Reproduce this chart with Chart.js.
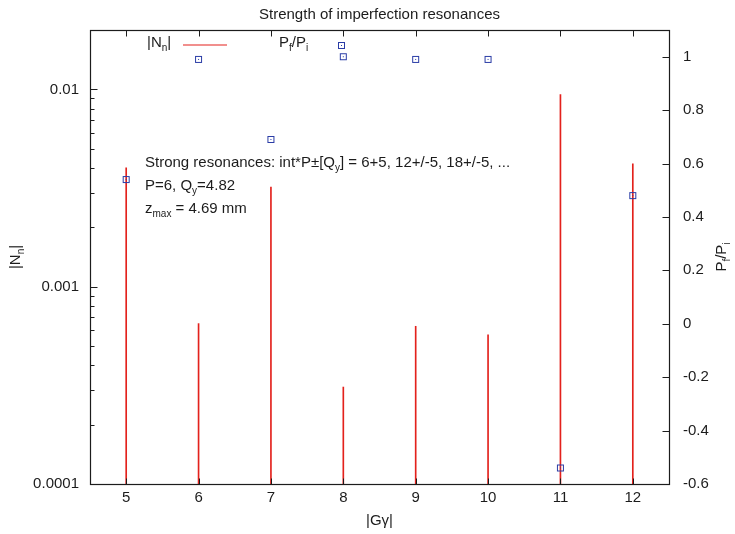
<!DOCTYPE html>
<html>
<head>
<meta charset="utf-8">
<script src="https://cdn.jsdelivr.net/npm/chart.js@4/dist/chart.umd.min.js"></script>
<style>
  html, body { margin: 0; padding: 0; background: #fff; }
</style>
</head>
<body>
<canvas id="myChart" width="735" height="534"></canvas>
<script>
// harmonic number |G gamma| and the two series
const harmonics = [5, 6, 7, 8, 9, 10, 11, 12];
const strength = [0.0040, 0.00065, 0.0032, 0.00031, 0.00063, 0.00057, 0.0094, 0.0042];
const polRatio = [0.54, 0.99, 0.69, 1.0, 0.99, 0.99, -0.54, 0.48];

// tick labels
const xTicks = [5, 6, 7, 8, 9, 10, 11, 12];
const leftTicks = [0.0001, 0.001, 0.01];
const leftMinor = [2, 3, 4, 5, 6, 7, 8, 9];
const rightTicks = [-0.6, -0.4, -0.2, 0, 0.2, 0.4, 0.6, 0.8, 1];

const red = '#e3211c';
const blue = '#2a3ca6';
const ink = '#1c1c1c';
const fontFamily = '"Liberation Sans", Arial, Helvetica, sans-serif';

// gnuplot-like open square with a centre dot
const mark = document.createElement('canvas');
mark.width = 9;
mark.height = 9;
const m = mark.getContext('2d');
m.strokeStyle = blue;
m.lineWidth = 1;
m.strokeRect(1.5, 1.5, 6, 6);
m.fillStyle = blue;
m.fillRect(4, 4, 1, 1);

// draw text made of pieces, some of them subscripts
function richWidth(ctx, parts) {
  let w = 0;
  parts.forEach(p => {
    ctx.font = (p[1] ? '10px ' : '15px ') + fontFamily;
    w += ctx.measureText(p[0]).width;
  });
  return w;
}
function drawRich(ctx, parts, x, y) {
  ctx.textBaseline = 'middle';
  ctx.textAlign = 'left';
  parts.forEach(p => {
    ctx.font = (p[1] ? '10px ' : '15px ') + fontFamily;
    ctx.fillText(p[0], x, p[1] ? y + 5 : y);
    x += ctx.measureText(p[0]).width;
  });
}

const gnuplotLook = {
  id: 'gnuplotLook',
  afterDraw(chart) {
    const {ctx, chartArea: a, scales} = chart;
    const x = scales.x, y = scales.y, y2 = scales.y2;
    ctx.save();
    ctx.strokeStyle = ink;
    ctx.lineWidth = 1.2;
    const L = Math.round(a.left) + 0.5, R = Math.round(a.right) + 0.5;
    const T = Math.round(a.top) + 0.5, B = Math.round(a.bottom) + 0.5;
    ctx.strokeRect(L, T, R - L, B - T);

    ctx.lineWidth = 1;
    ctx.beginPath();
    xTicks.forEach(v => {
      const px = Math.round(x.getPixelForValue(v)) + 0.5;
      ctx.moveTo(px, B); ctx.lineTo(px, B - 6);
      ctx.moveTo(px, T); ctx.lineTo(px, T + 6);
    });
    leftTicks.forEach(v => {
      const py = Math.round(y.getPixelForValue(v)) + 0.5;
      ctx.moveTo(L, py); ctx.lineTo(L + 7, py);
      leftMinor.forEach(k => {
        const val = v * k;
        if (val < y.max) {
          const pm = Math.round(y.getPixelForValue(val)) + 0.5;
          ctx.moveTo(L, pm); ctx.lineTo(L + 4, pm);
        }
      });
    });
    rightTicks.forEach(v => {
      const py = Math.round(y2.getPixelForValue(v)) + 0.5;
      ctx.moveTo(R, py); ctx.lineTo(R - 7, py);
    });
    ctx.stroke();

    ctx.fillStyle = ink;
    // title
    ctx.font = '15px ' + fontFamily;
    ctx.textAlign = 'center';
    ctx.textBaseline = 'middle';
    ctx.fillText('Strength of imperfection resonances', (a.left + a.right) / 2, 15);
    ctx.fillText('|G\u03b3|', (a.left + a.right) / 2, 521);

    // rotated axis titles
    const cy = (a.top + a.bottom) / 2;
    [[[['|N'], ['n', 1], ['|']], 16], [[['P'], ['f', 1], ['/P'], ['i', 1]], 722]].forEach(([parts, tx]) => {
      ctx.save();
      ctx.translate(tx, cy);
      ctx.rotate(-Math.PI / 2);
      drawRich(ctx, parts, -richWidth(ctx, parts) / 2, 0);
      ctx.restore();
    });

    // key
    drawRich(ctx, [['|N'], ['n', 1], ['|']], 147, 43);
    ctx.strokeStyle = red;
    ctx.lineWidth = 1.2;
    ctx.beginPath();
    ctx.moveTo(183, 45); ctx.lineTo(227, 45);
    ctx.stroke();
    ctx.fillStyle = ink;
    drawRich(ctx, [['P'], ['f', 1], ['/P'], ['i', 1]], 279, 43);
    ctx.drawImage(mark, 337, 41);

    // labels inside the plot
    drawRich(ctx, [['Strong resonances: int*P\u00b1[Q'], ['y', 1], ['] = 6+5, 12+/-5, 18+/-5, ...']], 145, 163);
    drawRich(ctx, [['P=6, Q'], ['y', 1], ['=4.82']], 145, 186);
    drawRich(ctx, [['z'], ['max', 1], [' = 4.69 mm']], 145, 209);
    ctx.restore();
  }
};

const data = {
  datasets: [{
    type: 'scatter',
    label: 'Pf/Pi',
    data: harmonics.map((h, i) => ({x: h, y: polRatio[i]})),
    yAxisID: 'y2',
    pointStyle: mark,
    pointRadius: 4,
    order: 0
  }, {
    type: 'bar',
    label: '|Nn|',
    data: harmonics.map((h, i) => ({x: h, y: strength[i]})),
    yAxisID: 'y',
    backgroundColor: red,
    borderWidth: 0,
    barThickness: 1,
    order: 1
  }]
};

const tickFont = {family: fontFamily, size: 15};

const config = {
  data: data,
  options: {
    responsive: false,
    animation: false,
    layout: {padding: {top: 30, left: 0, right: 0, bottom: 0}},
    plugins: {
      legend: {display: false},
      tooltip: {enabled: false}
    },
    scales: {
      x: {
        type: 'linear',
        min: 4.5,
        max: 12.5,
        offset: false,
        grid: {display: false, drawTicks: false},
        border: {display: false},
        afterBuildTicks: s => { s.ticks = xTicks.map(v => ({value: v})); },
        afterFit: s => { s.height = 50; },
        ticks: {font: tickFont, color: ink, padding: 5, maxRotation: 0, callback: v => String(v)}
      },
      y: {
        type: 'logarithmic',
        position: 'left',
        min: 0.0001,
        max: 0.02,
        grid: {display: false, drawTicks: false},
        border: {display: false},
        afterBuildTicks: s => { s.ticks = leftTicks.map(v => ({value: v})); },
        afterFit: s => { s.width = 90; },
        ticks: {font: tickFont, color: ink, padding: 11, callback: v => String(v)}
      },
      y2: {
        type: 'linear',
        position: 'right',
        min: -0.6,
        max: 1.1,
        grid: {display: false, drawTicks: false},
        border: {display: false},
        afterBuildTicks: s => { s.ticks = rightTicks.map(v => ({value: v})); },
        afterFit: s => { s.width = 66; },
        ticks: {font: tickFont, color: ink, padding: 14, callback: v => String(v)}
      }
    }
  },
  plugins: [gnuplotLook]
};

const myChart = new Chart(document.getElementById('myChart'), config);
</script>
</body>
</html>
